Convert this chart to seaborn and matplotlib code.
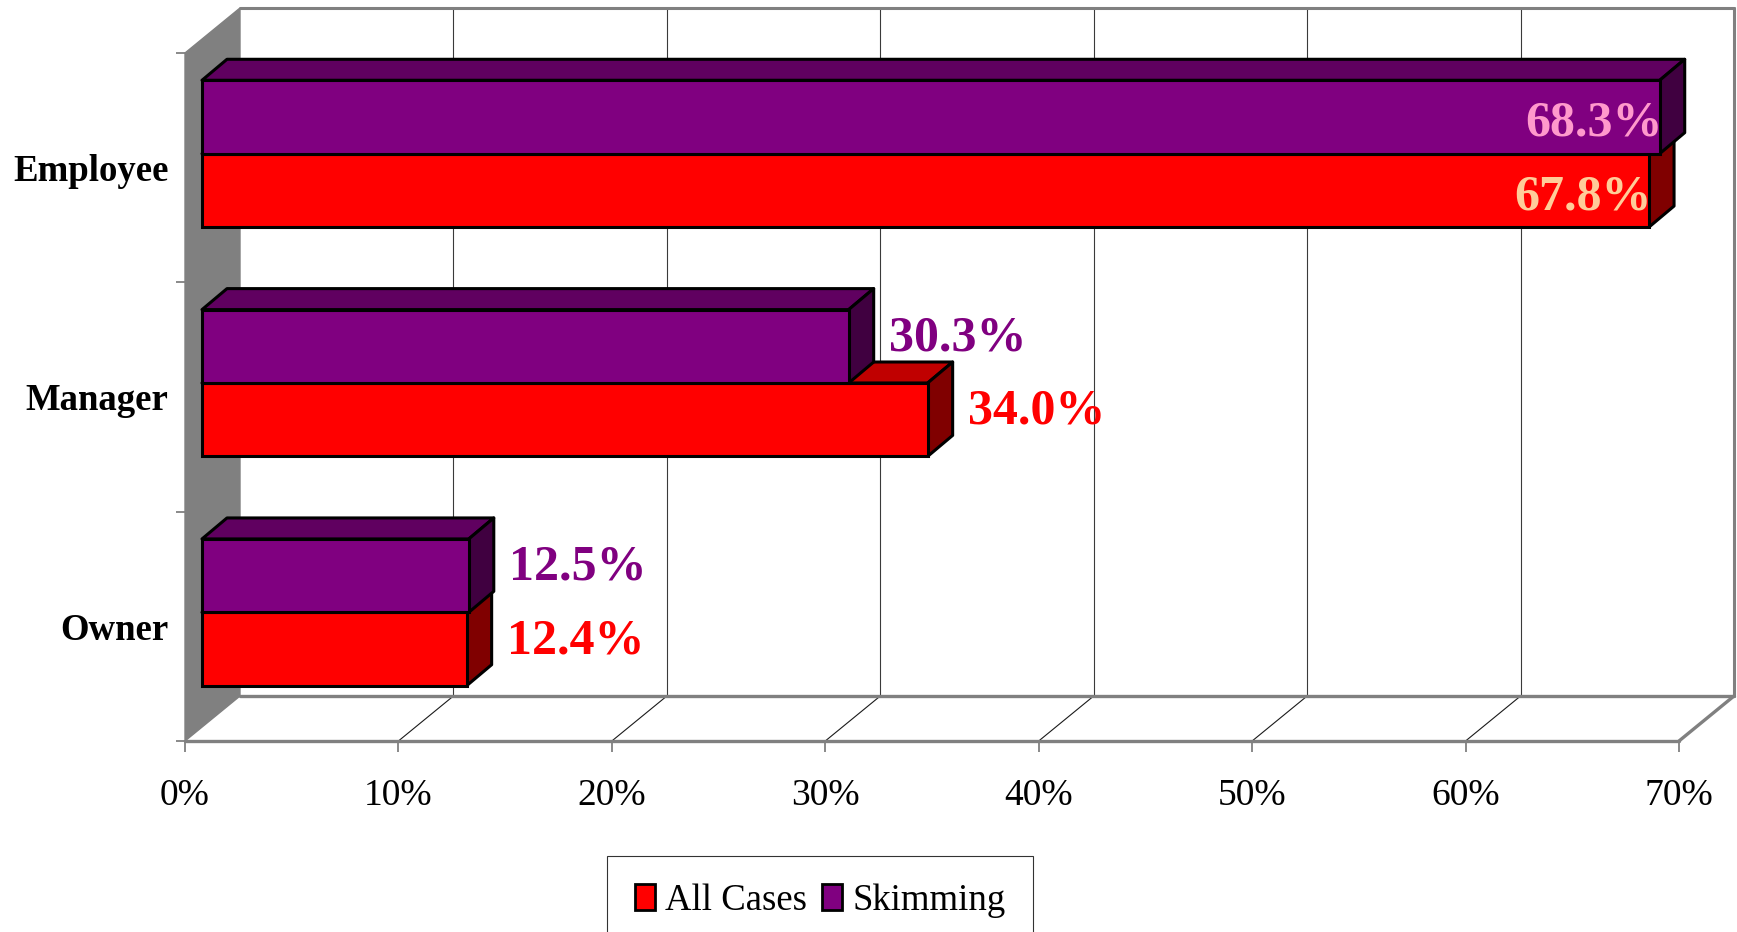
import matplotlib
matplotlib.use("Agg")
import matplotlib.pyplot as plt
from matplotlib.patches import Polygon, Patch
from matplotlib.transforms import ScaledTranslation
import seaborn as sns
import pandas as pd

# ---- data ----
roles = ["Employee", "Manager", "Owner"]
all_cases = [67.8, 34.0, 12.4]
skimming = [68.3, 30.3, 12.5]
series_names = ["All Cases", "Skimming"]
x_ticks = [0, 10, 20, 30, 40, 50, 60, 70]
x_tick_labels = ["0%", "10%", "20%", "30%", "40%", "50%", "60%", "70%"]

df = pd.DataFrame({
    "Role": roles * 2,
    "Value": all_cases + skimming,
    "Series": [series_names[0]] * 3 + [series_names[1]] * 3,
})

# ---- style ----
sns.set_theme(style="white")
plt.rcParams["font.family"] = ["Liberation Serif", "DejaVu Serif"]

RED, RED_TOP, RED_SIDE = "#FF0000", "#C00000", "#800000"
PUR, PUR_TOP, PUR_SIDE = "#800080", "#600060", "#400040"
GRAY = "#808080"
face = {"All Cases": (RED, RED_TOP, RED_SIDE), "Skimming": (PUR, PUR_TOP, PUR_SIDE)}
inside_color = {"All Cases": "#FFCC99", "Skimming": "#FF99CC"}
outside_color = {"All Cases": RED, "Skimming": PUR}

W, H, DPI = 1737, 932, 100
fig = plt.figure(figsize=(W / DPI, H / DPI), dpi=DPI)
fig.patch.set_facecolor("white")
L, R, T, B = 185, 1679, 53, 741
ax = fig.add_axes([L / W, 1 - B / H, (R - L) / W, (B - T) / H])
ax.set_facecolor("none")

sns.barplot(data=df, y="Role", x="Value", hue="Series", orient="h",
            order=roles, hue_order=["Skimming", "All Cases"],
            palette={"All Cases": RED, "Skimming": PUR},
            width=0.64, edgecolor="black", linewidth=2.2, legend=False,
            saturation=1, ax=ax)
bars = list(ax.patches)

XMAX = 70
ax.set_xlim(0, XMAX)
ax.set_ylim(2.5, -0.5)
PXX = XMAX / (R - L)
PXY = 3 / (B - T)


def d(px_right, px_up):
    return px_right * PXX, -px_up * PXY


bx, by = d(55, 45)
ytop, ybot = -0.5, 2.5

# back wall border + gridlines
ax.plot([bx, XMAX + bx], [ytop + by] * 2, color=GRAY, lw=2.2, clip_on=False, zorder=0.5)
ax.plot([XMAX + bx] * 2, [ytop + by, ybot + by], color=GRAY, lw=2.2, clip_on=False, zorder=0.5)
for xv in x_ticks[1:-1]:
    ax.plot([xv + bx] * 2, [ytop + by, ybot + by], color="#3a3a3a", lw=0.8, clip_on=False, zorder=0.4)
    ax.plot([xv, xv + bx], [ybot, ybot + by], color="#1a1a1a", lw=0.8, clip_on=False, zorder=0.4)
# floor edges
ax.plot([0, XMAX], [ybot] * 2, color=GRAY, lw=2.4, clip_on=False, zorder=0.6)
ax.plot([bx, XMAX + bx], [ybot + by] * 2, color=GRAY, lw=2.4, clip_on=False, zorder=0.6)
ax.plot([XMAX, XMAX + bx], [ybot, ybot + by], color=GRAY, lw=2.4, clip_on=False, zorder=0.6)
# left wall
ax.add_patch(Polygon([(0, ytop), (bx, ytop + by), (bx, ybot + by), (0, ybot)],
                     closed=True, fc=GRAY, ec=GRAY, lw=1, clip_on=False, zorder=0.7))

# ---- 3D bars ----
front = ax.transData + ScaledTranslation(17 / DPI, 14 / DPI, fig.dpi_scale_trans)
ddx, ddy = d(25, 21)

for p in bars:
    fc = matplotlib.colors.to_hex(p.get_facecolor())
    name = "All Cases" if fc.lower() == RED.lower() else "Skimming"
    base_z = 3 if name == "All Cases" else 5
    main, topc, sidec = face[name]
    x0, y0 = p.get_x(), p.get_y()
    w, h = p.get_width(), p.get_height()
    x1, y1 = x0 + w, y0 + h
    p.set_transform(front)
    p.set_zorder(base_z)
    p.set_clip_on(False)
    top = Polygon([(x0, y0), (x1, y0), (x1 + ddx, y0 + ddy), (x0 + ddx, y0 + ddy)],
                  closed=True, fc=topc, ec="black", lw=2.2, joinstyle="round",
                  transform=front, clip_on=False, zorder=base_z - 0.6)
    side = Polygon([(x1, y0), (x1 + ddx, y0 + ddy), (x1 + ddx, y1 + ddy), (x1, y1)],
                   closed=True, fc=sidec, ec="black", lw=2.2, joinstyle="round",
                   transform=front, clip_on=False, zorder=base_z - 0.4)
    ax.add_patch(top)
    ax.add_patch(side)
    yc = y0 + h / 2
    label = f"{w:.1f}%"
    if w > 60:
        ax.text(x1 + 3 * PXX, yc + 19 * PXY, label, transform=front, ha="right", va="baseline",
                fontsize=36, fontweight="bold", color=inside_color[name], zorder=10)
    else:
        ax.text(x1 + 40 * PXX, yc + 4 * PXY, label, transform=front, ha="left", va="baseline",
                fontsize=36, fontweight="bold", color=outside_color[name], zorder=10)

# ---- axes / ticks ----
for s in ax.spines.values():
    s.set_visible(False)
ax.set_xticks(x_ticks)
ax.set_xticklabels(x_tick_labels, fontsize=27)
ax.set_yticks(range(len(roles)))
ax.set_yticklabels(roles, fontsize=26.5, fontweight="bold")
ax.set_yticks([-0.5, 0.5, 1.5, 2.5], minor=True)
ax.tick_params(axis="x", which="major", direction="out", length=8, width=1.3,
               color=GRAY, pad=19, bottom=True, labelcolor="black")
ax.tick_params(axis="y", which="major", length=0, pad=12, left=True, labelcolor="black")
ax.tick_params(axis="y", which="minor", direction="out", length=6.5, width=1.3,
               color=GRAY, left=True)
for lbl in ax.get_yticklabels():
    lbl.set_va("center_baseline")
ax.set_xlabel("")
ax.set_ylabel("")
ax.grid(False)

# ---- legend ----
handles = [Patch(fc=RED, ec="black", lw=2, label="All Cases"),
           Patch(fc=PUR, ec="black", lw=2, label="Skimming")]
leg = fig.legend(handles=handles, loc="upper left",
                 bbox_to_anchor=(607 / W, 1 - 856 / H), ncol=2, frameon=True,
                 fancybox=False, edgecolor="black", fontsize=26.5, labelcolor="black",
                 handlelength=0.55, handleheight=0.7, handletextpad=0.28,
                 columnspacing=0.4, borderpad=0.75, borderaxespad=0)
leg.get_frame().set_linewidth(0.8)

fig.savefig("out.png", dpi=DPI, facecolor="white")
